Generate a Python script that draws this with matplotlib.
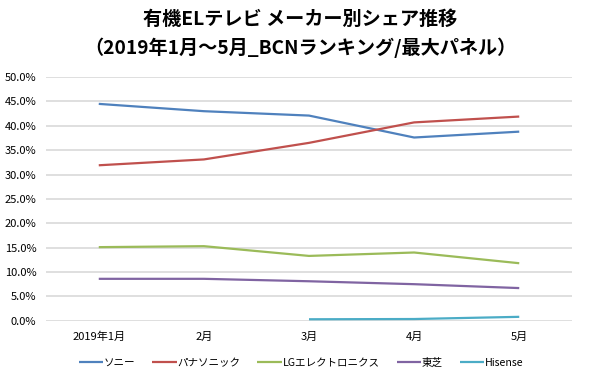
import matplotlib
matplotlib.use("Agg")
import matplotlib.pyplot as plt
from matplotlib.ticker import PercentFormatter
import numpy as np

plt.rcParams['font.family'] = ['Noto Sans CJK JP', 'DejaVu Sans']

months = ["2019年1月", "2月", "3月", "4月", "5月"]
sony = [44.5, 43.0, 42.1, 37.6, 38.8]
panasonic = [31.9, 33.1, 36.5, 40.7, 41.9]
lg = [15.1, 15.3, 13.3, 14.0, 11.8]
toshiba = [8.6, 8.6, 8.1, 7.5, 6.7]
hisense = [np.nan, np.nan, 0.3, 0.35, 0.8]
names = ["ソニー", "パナソニック", "LGエレクトロニクス", "東芝", "Hisense"]
colors = ["#4F81BD", "#C0504D", "#9BBB59", "#8064A2", "#4BACC6"]

fig = plt.figure(figsize=(6, 3.76), dpi=100)
ax = fig.add_axes([0.077, 0.147, 0.876, 0.648])
x = np.arange(len(months))
for vals, name, c in zip([sony, panasonic, lg, toshiba, hisense], names, colors):
    ax.plot(x, np.array(vals) / 100, color=c, lw=1.6, label=name, solid_capstyle='butt')

ax.set_xlim(-0.5, 4.5)
ax.set_ylim(0, 0.5)
ax.set_yticks(np.arange(0, 0.501, 0.05))
ax.yaxis.set_major_formatter(PercentFormatter(1.0, decimals=1))
ax.set_xticks(x)
ax.set_xticklabels(months)
ax.grid(axis='y', color='#D9D9D9', lw=1.2)
ax.set_axisbelow(True)
for s in ax.spines.values():
    s.set_visible(False)
ax.tick_params(length=0, labelsize=8, colors='#000000')
ax.tick_params(axis='x', pad=8)
ax.tick_params(axis='y', pad=7)

fig.text(0.5, 0.949, "有機ELテレビ メーカー別シェア推移", ha='center', va='center',
         fontsize=13.8, fontweight='bold')
fig.text(0.5, 0.874, "（2019年1月～5月_BCNランキング/最大パネル）", ha='center', va='center',
         fontsize=13.8, fontweight='bold')

leg = fig.legend(loc='center', bbox_to_anchor=(0.502, 0.035), ncol=5, frameon=False,
                 fontsize=7.6, handlelength=2.3, handletextpad=0.1, columnspacing=1.6)

fig.savefig("out.png", dpi=100)
